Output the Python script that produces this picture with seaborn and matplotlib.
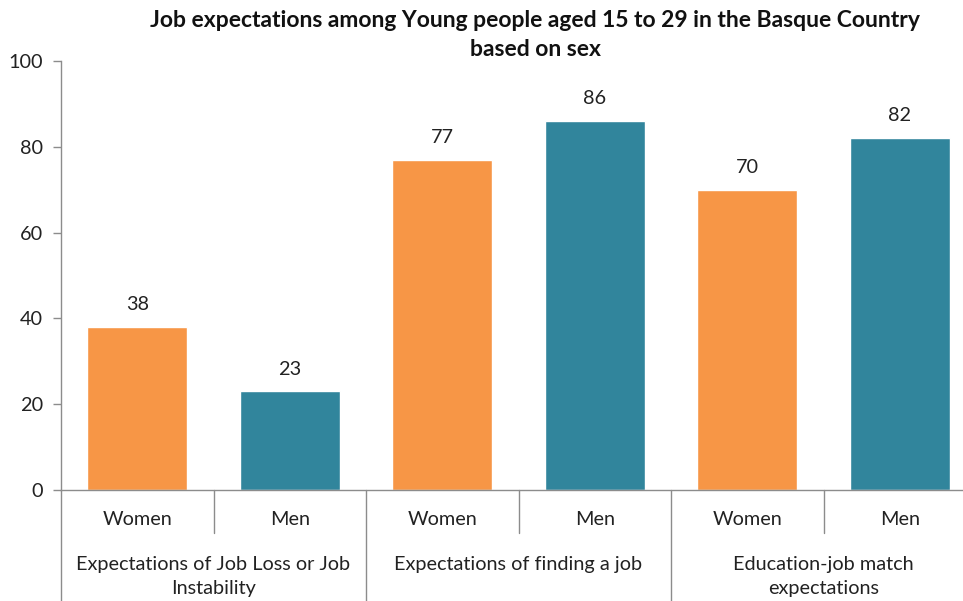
import matplotlib
matplotlib.use("Agg")
import matplotlib.pyplot as plt
import matplotlib.transforms as mtransforms
import seaborn as sns
import pandas as pd

groups = ["Expectations of Job Loss or Job\nInstability",
          "Expectations of finding a job",
          "Education-job match\nexpectations"]
sexes = ["Women", "Men"]
values = [38, 23, 77, 86, 70, 82]
colors = {"Women": "#F79646", "Men": "#31859C"}
yticks = [0, 20, 40, 60, 80, 100]
title = "Job expectations among Young people aged 15 to 29 in the Basque Country\nbased on sex"

rows = []
for gi, g in enumerate(groups):
    for si, s in enumerate(sexes):
        rows.append({"slot": f"{gi}-{s}", "group": g, "sex": s, "value": values[gi * 2 + si]})
df = pd.DataFrame(rows)

sns.set_style("white")
plt.rcParams["font.family"] = ["Lato", "DejaVu Sans"]
txt = "#222222"
spine_c = "#8C8C8C"
fs = 14.3

fig = plt.figure(figsize=(9.63, 6.01), dpi=100)
ax = fig.add_axes([61 / 963, 1 - 490 / 601, 915 / 963, 429 / 601])
sns.barplot(data=df, x="slot", y="value", hue="sex", palette=colors, dodge=False,
            width=0.656, legend=False, ax=ax, saturation=1)

ax.set_ylim(0, 100)
ax.set_xlim(-0.5, len(df) - 0.5)
ax.set_yticks(yticks)
ax.set_yticklabels([str(t) for t in yticks], fontsize=fs, color=txt)
ax.tick_params(axis="y", length=6, width=1, color=spine_c, pad=7, left=True)
ax.set_xticks([])
ax.set_xlabel("")
ax.set_ylabel("")
for sp in ["top", "right"]:
    ax.spines[sp].set_visible(False)
for sp in ["left", "bottom"]:
    ax.spines[sp].set_color(spine_c)
    ax.spines[sp].set_linewidth(1)

for p in ax.patches:
    h = p.get_height()
    if h and h > 0:
        ax.text(p.get_x() + p.get_width() / 2, h + 5.2, f"{h:.0f}", ha="center", va="center",
                fontsize=fs, color=txt)

trans = mtransforms.blended_transform_factory(ax.transData, ax.transAxes)
for x in [0.5, 2.5, 4.5]:
    ax.plot([x, x], [0, -0.10], transform=trans, color=spine_c, lw=1, clip_on=False)
for x in [-0.5, 1.5, 3.5]:
    ax.plot([x, x], [0, -0.27], transform=trans, color=spine_c, lw=1, clip_on=False)

for i, s in enumerate(df["sex"]):
    ax.text(i, -0.068, s, transform=trans, ha="center", va="center", fontsize=fs, color=txt)
for gi, g in enumerate(groups):
    ax.text(gi * 2 + 0.5, -0.153, g, transform=trans, ha="center", va="top", fontsize=fs,
            color=txt, linespacing=1.5)

fig.text(535 / 963, 1 - 35 / 601, title, ha="center", va="center", fontsize=16.5,
         fontweight="bold", color="#111111", linespacing=1.5)

fig.savefig("out.png", dpi=100)
